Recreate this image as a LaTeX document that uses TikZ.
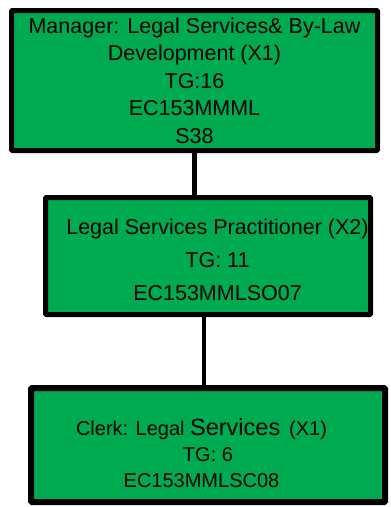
\documentclass[tikz,border=0pt]{standalone}
\usepackage{fontspec}
\setmainfont{Liberation Sans}
\usepackage{xcolor}
\usetikzlibrary{positioning}
\definecolor{verde}{RGB}{0,170,80}

\begin{document}
\begin{tikzpicture}[x=1pt, y=-1pt,
  cargo/.style={rectangle, draw=black, fill=verde, align=center, inner sep=0pt, rounded corners=1pt},
  enlace/.style={line width=4.5pt}]
\useasboundingbox (0,0) rectangle (391,507);
\node[cargo, line width=5pt, minimum width=366pt, minimum height=140pt, font=\fontsize{21.5}{27.5}\selectfont](Man) at (194.5,80.5) {Manager: Legal Services\& By-Law\\Development (X1)\\TG:16\\EC153MMML\\S38};
\node[cargo, line width=5pt, minimum width=325pt, minimum height=117pt, font=\fontsize{21.5}{33}\selectfont](Prac) at (208,256) {\rule{0pt}{24pt}\hspace*{19pt}Legal Services Practitioner (X2)\\\hspace*{19pt}TG: 11\\\hspace*{19pt}EC153MMLSO07};
\node[cargo, line width=6pt, minimum width=354pt, minimum height=114pt, font=\fontsize{20}{26}\selectfont](Cler) at (208,445) {\rule{0pt}{34pt}Clerk: Legal {\fontsize{23.5}{26}\selectfont Services}\, (X1)\hspace*{13pt}\\TG: 6\hspace*{13pt}\\EC153MMLSC08\hspace*{13pt}};
	\draw[enlace] (Man.south) to (Man.south |- Prac.north);
	\draw[enlace] ([xshift=-4pt]Prac.south) to ([xshift=-4pt]Prac.south |- Cler.north);
\end{tikzpicture}
\end{document}
